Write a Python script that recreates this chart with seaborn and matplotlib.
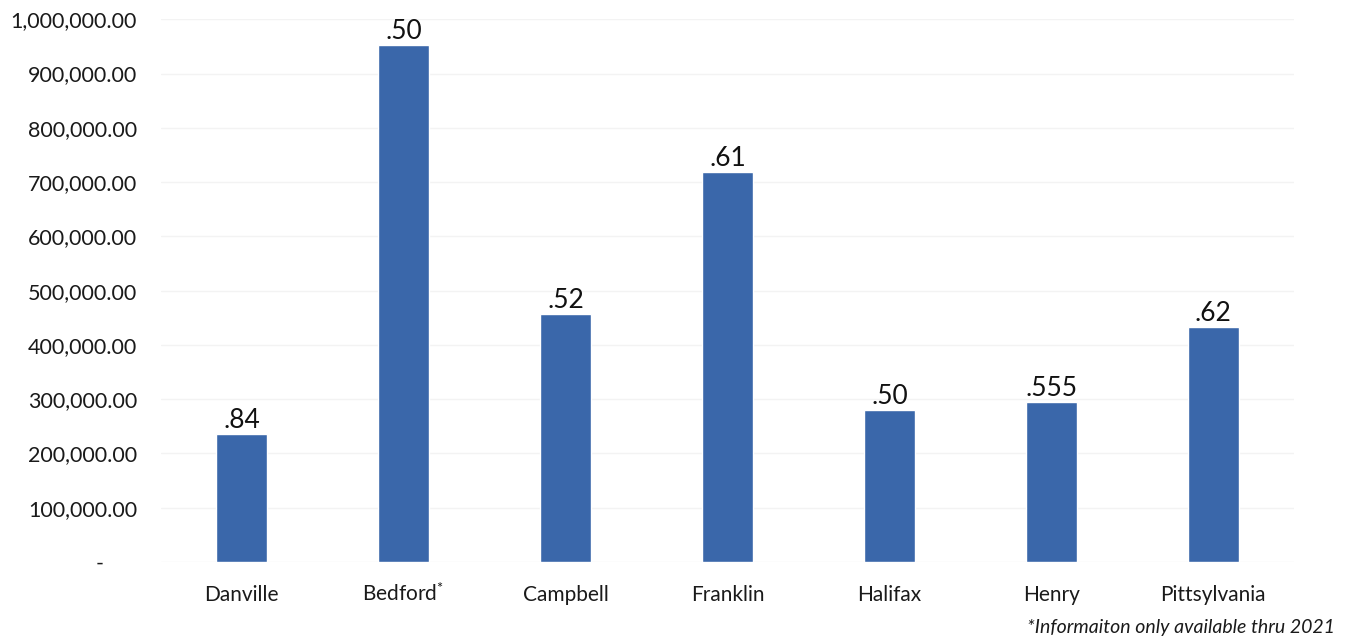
import matplotlib
matplotlib.use("Agg")
import matplotlib.pyplot as plt
import seaborn as sns
import pandas as pd
from matplotlib.ticker import FuncFormatter

categories = ["Danville", "Bedford$^{*}$", "Campbell", "Franklin", "Halifax", "Henry", "Pittsylvania"]
values = [236000, 952000, 457000, 718000, 280000, 295000, 433000]
rate_labels = [".84", ".50", ".52", ".61", ".50", ".555", ".62"]
y_ticks = [0, 100000, 200000, 300000, 400000, 500000, 600000, 700000, 800000, 900000, 1000000]
footnote = "*Informaiton only available thru 2021"

sns.set_theme(style="white")
plt.rcParams['font.family'] = ['Lato', 'DejaVu Sans']
plt.rcParams['mathtext.fontset'] = 'custom'
plt.rcParams['mathtext.rm'] = 'Lato'
plt.rcParams['mathtext.it'] = 'Lato'

df = pd.DataFrame({"county": categories, "value": values})

fig = plt.figure(figsize=(13.61, 6.42), dpi=100)
ax = fig.add_axes([0.118, 0.1246, 0.833, 0.8454])

sns.barplot(data=df, x="county", y="value", color="#3A67AA", saturation=1,
            width=0.315, ax=ax)

ax.bar_label(ax.containers[0], labels=rate_labels, padding=1, fontsize=19, color="#111111")

ax.set_ylim(0, 1000000)
ax.set_yticks(y_ticks)
ax.yaxis.set_major_formatter(FuncFormatter(lambda v, p: "-      " if v == 0 else f"{v:,.2f}"))
ax.grid(axis="y", color="#f3f3f3", linewidth=1)
ax.set_axisbelow(True)
for s in ax.spines.values():
    s.set_visible(False)
ax.tick_params(axis="y", length=0, pad=17, labelsize=15.5, labelcolor="#1a1a1a")
ax.tick_params(axis="x", length=0, pad=28, labelsize=15, labelcolor="#1a1a1a")
for lbl in ax.get_xticklabels():
    lbl.set_verticalalignment("baseline")
ax.set_xlabel("")
ax.set_ylabel("")

fig.text(0.981, 0.022, footnote, ha="right", va="center", fontsize=14, style="italic", color="#1a1a1a")

fig.savefig("out.png", dpi=100, facecolor="white")
